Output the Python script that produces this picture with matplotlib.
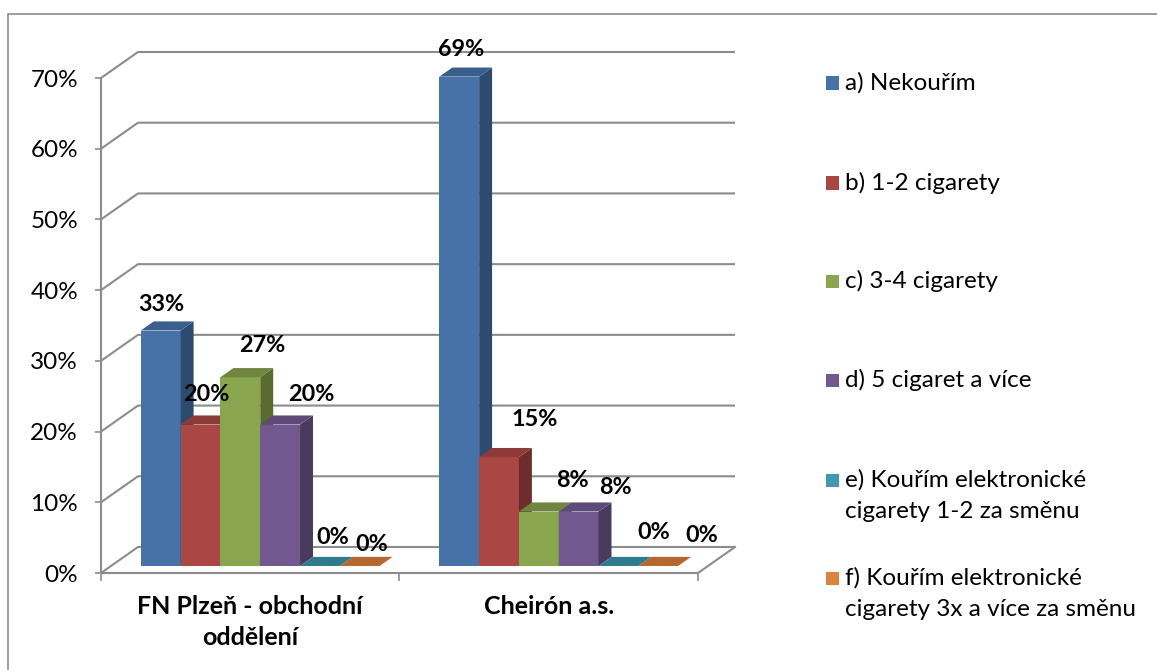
import matplotlib
matplotlib.use("Agg")
import matplotlib.pyplot as plt
from matplotlib.patches import Polygon, Rectangle
from matplotlib.ticker import PercentFormatter

# data
categories = ["FN Plzeň - obchodní\noddělení", "Cheirón a.s."]
series_names = [
    "a) Nekouřím",
    "b) 1-2 cigarety",
    "c) 3-4 cigarety",
    "d) 5 cigaret a více",
    "e) Kouřím elektronické\ncigarety 1-2 za směnu",
    "f) Kouřím elektronické\ncigarety 3x a více za směnu",
]
fn_plzen = [0.333, 0.200, 0.267, 0.200, 0.0, 0.0]
cheiron = [0.692, 0.154, 0.077, 0.077, 0.0, 0.0]
yticks = [0.0, 0.1, 0.2, 0.3, 0.4, 0.5, 0.6, 0.7]

# styles
front_cols = ["#4672A8", "#AA4643", "#89A54E", "#71588F", "#4198AF", "#DB843D"]
top_cols = ["#3B5F8D", "#8D3B38", "#6F8540", "#5E4A78", "#2F7A8C", "#B4682F"]
side_cols = ["#2E4A6E", "#6E2D2C", "#5A6B32", "#4A3B5E", "#276577", "#91542A"]
grid_col = "#8C8C8C"
font = "Lato"

# label nudges in pixels (dx, dy) from top of the front face
label_nudge = [
    [(1, 26), (2, 27)],
    [(6, 30), (36, 38)],
    [(22, 32), (34, 31)],
    [(31, 30), (37, 24)],
    [(13, 28), (35, 33)],
    [(12, 21), (44, 30)],
]

# fake 3d geometry (data units)
DX = 37 / 298.5     # depth shift of the walls
DY = 26 / 707.0
f0, f1 = 0.27, 0.62  # bar depth range as fraction of floor depth
bar_w = 0.8 / 6

fig = plt.figure(figsize=(11.57, 6.70), dpi=100)
ax = fig.add_axes([101 / 1157, (670 - 573) / 670, 634 / 1157, 521 / 670])
ax.set_xlim(0, 2 + DX)
ax.set_ylim(0, 0.7 + DY)
ax.patch.set_alpha(0)

# walls / gridlines
for t in yticks:
    ax.plot([0, DX, 2 + DX], [t, t + DY, t + DY], color=grid_col, lw=1.5,
            clip_on=False, zorder=1, solid_capstyle="butt")
ax.plot([2, 2 + DX], [0, DY], color=grid_col, lw=1.5, clip_on=False, zorder=1)

# bars
ddx = (f1 - f0) * DX
ddy = (f1 - f0) * DY
base = f0 * DY
values = list(zip(fn_plzen, cheiron))
for j, vals in enumerate(values):
    lefts = [i + 0.1 + j * bar_w + f0 * DX for i in range(len(categories))]
    z = 3 + j * 3
    ax.bar(lefts, vals, width=bar_w, bottom=base, align="edge",
           color=front_cols[j], linewidth=0, zorder=z)
    for i, (xl, v) in enumerate(zip(lefts, vals)):
        xr = xl + bar_w
        yt = base + v
        side = Polygon([(xr, base), (xr, yt), (xr + ddx, yt + ddy), (xr + ddx, base + ddy)],
                       closed=True, facecolor=side_cols[j], edgecolor="none", zorder=z + 1)
        top = Polygon([(xl, yt), (xr, yt), (xr + ddx, yt + ddy), (xl + ddx, yt + ddy)],
                      closed=True, facecolor=top_cols[j], edgecolor="none", zorder=z + 2)
        ax.add_patch(side)
        ax.add_patch(top)
        dx, dy = label_nudge[j][i]
        ax.annotate(f"{round(v * 100)}%", xy=(xl + bar_w / 2, yt), xytext=(dx, dy),
                    textcoords="offset pixels", ha="center", va="center",
                    fontsize=16.8, fontweight="bold", family=font, zorder=40,
                    annotation_clip=False)

# axes
for s in ["top", "right"]:
    ax.spines[s].set_visible(False)
ax.spines["left"].set_bounds(0, 0.7)
ax.spines["bottom"].set_bounds(0, 2)
for s in ["left", "bottom"]:
    ax.spines[s].set_color(grid_col)
    ax.spines[s].set_linewidth(1.5)
    ax.spines[s].set_zorder(2)

ax.set_yticks(yticks)
ax.yaxis.set_major_formatter(PercentFormatter(1.0, decimals=0))
ax.tick_params(axis="y", length=4.5, width=1.2, color=grid_col, pad=12,
               labelsize=17.5, labelcolor="black")
for lb in ax.get_yticklabels():
    lb.set_family(font)

ax.set_xticks([0, 1, 2])
ax.set_xticklabels([])
ax.set_xticks([0.5, 1.5], minor=True)
ax.set_xticklabels(categories, minor=True, fontsize=18, fontweight="bold", family=font,
                   linespacing=1.4)
ax.tick_params(axis="x", which="major", length=6, width=1.2, color=grid_col)
ax.tick_params(axis="x", which="minor", length=0, pad=16)

# legend drawn by hand, one text per line
leg_y = [83, 183, 281, 380, 480, 578]
for j, name in enumerate(series_names):
    yp = leg_y[j]
    fig.add_artist(Rectangle((826 / 1157, (670 - yp - 6.5) / 670), 13 / 1157, 13 / 670,
                             transform=fig.transFigure, facecolor=front_cols[j],
                             edgecolor="none"))
    for k, line in enumerate(name.split("\n")):
        fig.text(845 / 1157, (670 - yp - 7 - 31 * k) / 670, line, ha="left",
                 va="baseline", fontsize=17.5, family=font)

# chart border
fig.add_artist(Rectangle((8 / 1157, -0.1), 1.0, (670 - 14) / 670 + 0.1,
                         transform=fig.transFigure, fill=False,
                         edgecolor=grid_col, lw=1.2))

fig.savefig("out.png", dpi=100)
